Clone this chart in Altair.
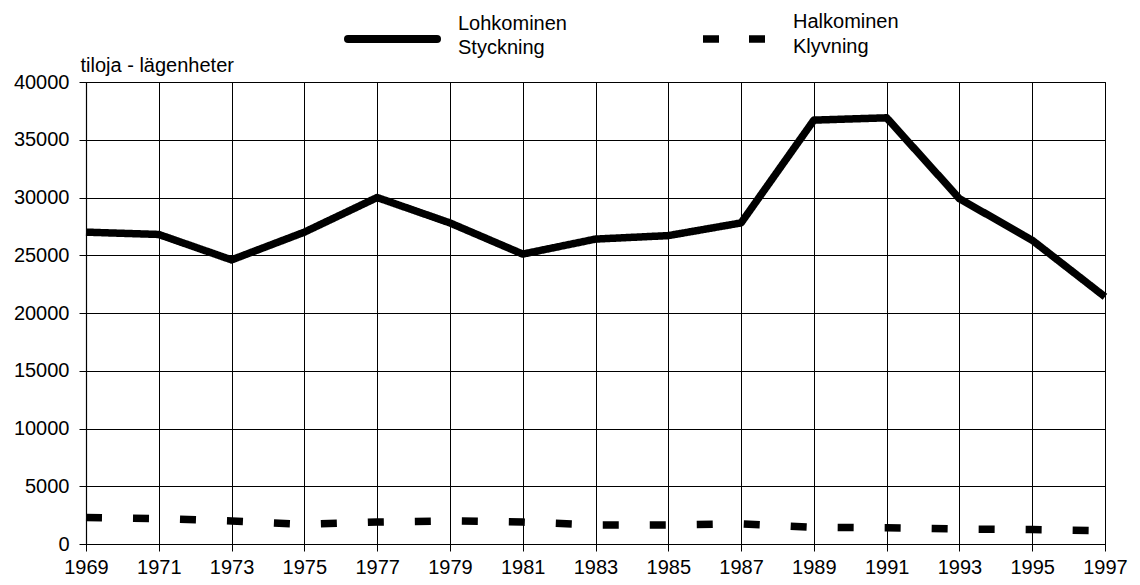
import altair as alt
import pandas as pd

years = list(range(1969, 1998, 2))
lohkominen = [27000, 26800, 24600, 27000, 30000, 27800, 25100, 26400,
              26700, 27800, 36700, 36900, 29900, 26300, 21400]
halkominen = [2300, 2200, 2000, 1700, 1900, 2000, 1900, 1650,
              1650, 1750, 1450, 1400, 1300, 1250, 1150]
series_names = ["Lohkominen", "Halkominen"]
legend_lines = {"Lohkominen": ["Lohkominen", "Styckning"],
                "Halkominen": ["Halkominen", "Klyvning"]}
y_ticks = list(range(0, 40001, 5000))

df = pd.DataFrame({
    "year": years * 2,
    "value": lohkominen + halkominen,
    "series": [series_names[0]] * len(years) + [series_names[1]] * len(years),
})

FONT = "Liberation Sans"

x = alt.X("year:Q",
          scale=alt.Scale(domain=[1969, 1997], nice=False, zero=False),
          axis=alt.Axis(values=years, format="d", title=None, labelFontSize=20,
                        labelPadding=6, tickSize=7, grid=True, labelFlush=False))
y = alt.Y("value:Q",
          scale=alt.Scale(domain=[0, 40000], nice=False),
          axis=alt.Axis(values=y_ticks, format="d", title="tiloja - lägenheter",
                        titleAngle=0, titleX=-6, titleY=-17, titleAlign="left",
                        titleBaseline="middle", titleFontSize=20,
                        titleFontWeight="normal", labelFontSize=20,
                        labelPadding=10, tickSize=7, grid=True))

lines = alt.Chart(df).mark_line(color="black", strokeWidth=7.5, strokeJoin="round").encode(
    x=x, y=y,
    strokeDash=alt.StrokeDash("series:N",
                              scale=alt.Scale(domain=series_names, range=[[1, 0], [16, 31]]),
                              legend=None),
    detail="series:N",
)

def one(v):
    return pd.DataFrame({"t": [v]})

leg_solid = alt.Chart(one(series_names[0])).mark_rule(
    color="black", strokeWidth=8, strokeCap="round").encode(
    x=alt.value(262), x2=alt.value(351), y=alt.value(-43))
leg_dash = alt.Chart(one(series_names[1])).mark_rule(
    color="black", strokeWidth=7.5, strokeDash=[16, 30]).encode(
    x=alt.value(617), x2=alt.value(679), y=alt.value(-43))

def txt(v, xp, yp):
    return alt.Chart(one(v)).mark_text(
        align="left", baseline="middle", font=FONT, fontSize=20, color="black").encode(
        text="t:N", x=alt.value(xp), y=alt.value(yp))

texts = [
    txt(legend_lines["Lohkominen"][0], 372, -58),
    txt(legend_lines["Lohkominen"][1], 372, -34),
    txt(legend_lines["Halkominen"][0], 707, -60),
    txt(legend_lines["Halkominen"][1], 707, -35),
]

chart = alt.layer(lines, leg_solid, leg_dash, *texts).properties(
    width=1019, height=462,
    autosize=alt.AutoSizeParams(type="none"),
    padding={"left": 78, "top": 74, "right": 27, "bottom": 33},
    background="white",
).configure_axis(
    labelFont=FONT, titleFont=FONT, labelColor="black", titleColor="black",
    domainColor="black", tickColor="black", gridColor="black",
    gridOpacity=1, gridWidth=1, domainWidth=1.2, tickWidth=1,
).configure_view(stroke="black", strokeWidth=1)

chart.save("out.html", embed_options={"renderer": "svg", "actions": False})
